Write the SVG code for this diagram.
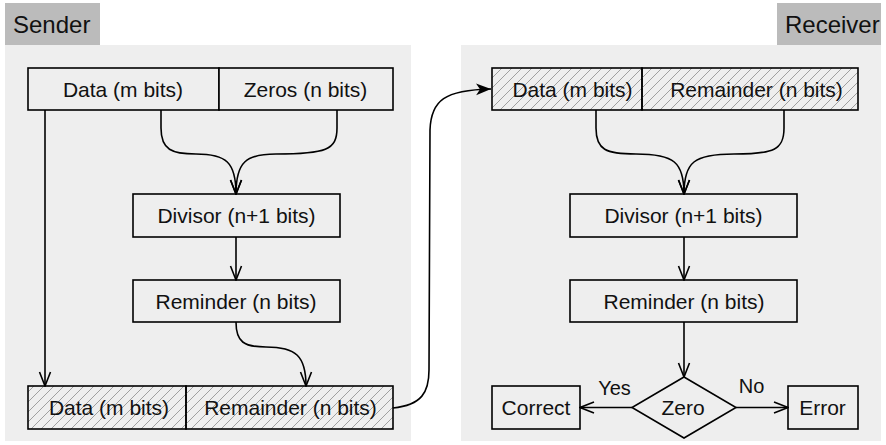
<svg xmlns="http://www.w3.org/2000/svg" width="886" height="445" viewBox="0 0 886 445">
<defs>
<pattern id="hatch" patternUnits="userSpaceOnUse" width="10" height="10">
<path d="M0,10 L10,0 M-2,2 L2,-2 M8,12 L12,8" stroke="#8a8a8a" stroke-width="0.8"/>
</pattern>
<marker id="open" viewBox="0 0 16 14" refX="15" refY="7" markerWidth="16" markerHeight="14" markerUnits="userSpaceOnUse" orient="auto">
<path d="M1,1.5 L15,7 L1,12.5" fill="none" stroke="#000" stroke-width="1.6"/>
</marker>
<marker id="filled" viewBox="0 0 16 14" refX="15" refY="7" markerWidth="16" markerHeight="14" markerUnits="userSpaceOnUse" orient="auto">
<path d="M0,1 L15,7 L0,13 L4,7 Z" fill="#000"/>
</marker>
</defs>
<style>
.panel{fill:#eeeeee}
.lbl{fill:#bbbbbb}
.box{fill:#eeeeee;stroke:#000;stroke-width:1.6}
.hb{fill:url(#hatch);stroke:#000;stroke-width:1.6}
.t{font-family:"Liberation Sans",Arial,sans-serif;font-size:21px;fill:#111;text-anchor:middle}
.e{font-family:"Liberation Sans",Arial,sans-serif;font-size:20px;fill:#111;text-anchor:middle}
.h{font-family:"Liberation Sans",Arial,sans-serif;font-size:24px;fill:#111}
.c{fill:none;stroke:#000;stroke-width:1.6}
</style>
<g id="sender-panel">
<rect class="panel" x="5" y="45" width="406" height="396"/>
<rect class="lbl" x="5" y="3" width="95" height="42"/>
<text class="h" x="13" y="33">Sender</text>
</g>
<g id="receiver-panel">
<rect class="panel" x="461" y="45" width="420" height="396"/>
<rect class="lbl" x="777" y="3" width="104" height="42"/>
<text class="h" x="785" y="33">Receiver</text>
</g>
<g id="s-data">
<rect class="box" x="28" y="68" width="191" height="42"/>
<text class="t" x="123" y="97">Data (m bits)</text>
</g>
<g id="s-zeros">
<rect class="box" x="219" y="68" width="174" height="42"/>
<text class="t" x="305.5" y="97">Zeros (n bits)</text>
</g>
<g id="s-divisor">
<rect class="box" x="133" y="194" width="207" height="43"/>
<text class="t" x="236.5" y="223">Divisor (n+1 bits)</text>
</g>
<g id="s-reminder">
<rect class="box" x="133" y="280" width="207" height="42"/>
<text class="t" x="236" y="309">Reminder (n bits)</text>
</g>
<g id="s-out-data">
<rect class="hb" x="28" y="386" width="158" height="43"/>
<text class="t" x="109" y="415">Data (m bits)</text>
</g>
<g id="s-out-rem">
<rect class="hb" x="186" y="386" width="207" height="43"/>
<text class="t" x="290.5" y="415">Remainder (n bits)</text>
</g>
<g id="r-data">
<rect class="hb" x="492" y="68" width="150" height="42"/>
<text class="t" x="572.5" y="97">Data (m bits)</text>
</g>
<g id="r-rem">
<rect class="hb" x="642" y="68" width="216" height="42"/>
<text class="t" x="756.5" y="97">Remainder (n bits)</text>
</g>
<g id="r-divisor">
<rect class="box" x="570" y="194" width="227" height="43"/>
<text class="t" x="683.5" y="223">Divisor (n+1 bits)</text>
</g>
<g id="r-reminder">
<rect class="box" x="570" y="280" width="227" height="42"/>
<text class="t" x="684" y="309">Reminder (n bits)</text>
</g>
<g id="r-zero">
<path class="box" d="M684,377 L736,407.5 L684,438 L632,407.5 Z"/>
<text class="t" x="683" y="415">Zero</text>
</g>
<g id="r-correct">
<rect class="box" x="492" y="386" width="88" height="43"/>
<text class="t" x="536" y="415">Correct</text>
</g>
<g id="r-error">
<rect class="box" x="788" y="386" width="70" height="43"/>
<text class="t" x="822.5" y="415">Error</text>
</g>
<g id="connectors">
<path class="c" d="M45,110 L45,386" marker-end="url(#open)"/>
<path class="c" d="M161,110 L161,128 C161,150 172,154 196,154 C226,154 236,162 236,194" marker-end="url(#open)"/>
<path class="c" d="M337,110 L337,128 C337,150 326,154 276,154 C246,154 236,162 236,194" marker-end="url(#open)"/>
<path class="c" d="M236,237 L236,280" marker-end="url(#open)"/>
<path class="c" d="M236,322 C236,342 244,347 266,347 C296,347 306,356 306,386" marker-end="url(#open)"/>
<path class="c" d="M393,408 C422,405 429,392 429,370 L430,130 C431,100 445,90 491,89" marker-end="url(#filled)"/>
<path class="c" d="M596,110 L596,128 C596,150 606,154 636,154 C674,154 684,162 684,194" marker-end="url(#open)"/>
<path class="c" d="M784,110 L784,128 C784,150 774,154 734,154 C694,154 684,162 684,194" marker-end="url(#open)"/>
<path class="c" d="M684,237 L684,280" marker-end="url(#open)"/>
<path class="c" d="M684,322 L684,377" marker-end="url(#open)"/>
<path class="c" d="M632,407.5 L580,407.5" marker-end="url(#open)"/>
<path class="c" d="M736,407.5 L788,407.5" marker-end="url(#open)"/>
<text class="e" x="614.5" y="395">Yes</text>
<text class="e" x="751.5" y="393">No</text>
</g>
</svg>
